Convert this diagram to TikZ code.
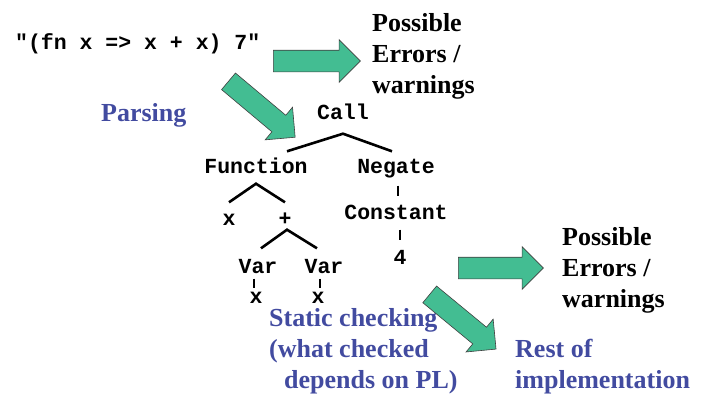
\documentclass[tikz,border=0pt]{standalone}
\usepackage{fontspec}
\setmainfont{Liberation Serif}
\setmonofont{Liberation Mono}
\usetikzlibrary{shapes.arrows}
\definecolor{arrowgreen}{RGB}{67,189,146}
\definecolor{stageblue}{RGB}{66,75,160}
\tikzset{
 code/.style={font=\ttfamily\bfseries\fontsize{21.5}{26}\selectfont, inner sep=0pt, text height=13pt, text depth=0pt},
 remark/.style={font=\bfseries\fontsize{26}{31}\selectfont, inner sep=0pt, align=left, anchor=base west},
 stage/.style={remark, text=stageblue},
 branch/.style={line width=2.6pt},
 tick/.style={line width=2.6pt},
 bigarrow/.style={single arrow, draw=black!75, fill=arrowgreen, line width=0.6pt, inner sep=10.5pt, single arrow head extend=10.5pt, minimum height=#1}
}
\begin{document}
\begin{tikzpicture}[x=1pt,y=-1pt]
\useasboundingbox (0,0) rectangle (707,394);
 \node[code, anchor=west] (source) at (15,43) {"(fn x => x + x) 7"};
 \node[remark] (errtop) at (372,93) {Possible\\Errors /\\warnings};
 \node[stage] (parsing) at (101,121) {Parsing};
 \node[remark] (errlow) at (562,307) {Possible\\Errors /\\warnings};
 \node[stage] (static) at (269,388) {Static checking\\(what checked\\\hspace*{15pt}depends on PL)};
 \node[stage] (rest) at (515,388) {Rest of\\implementation};

 \node[code] (call) at (343,113) {Call};
 \node[code] (function) at (256,167) {Function};
 \node[code] (negate) at (396,167) {Negate};
 \node[code] (xa) at (229,219) {x};
 \node[code] (plus) at (285,219) {+};
 \node[code] (constant) at (396,213) {Constant};
 \node[code] (four) at (400,258) {4};
 \node[code] (vara) at (258,267) {Var};
 \node[code] (varb) at (324,267) {Var};
 \node[code] (xb) at (256,297) {x};
 \node[code] (xc) at (318,297) {x};

\draw[branch] ([xshift=31pt,yshift=9pt]function.north) -- ([yshift=-14pt]call.south) -- ([xshift=-4pt,yshift=9pt]negate.north);
\draw[branch] ([yshift=10pt]xa.north) -- ([yshift=-10pt]function.south) -- ([yshift=10pt]plus.north);
\draw[branch] ([xshift=3pt,yshift=12pt]vara.north) -- ([xshift=2pt,yshift=-4pt]plus.south) -- ([xshift=-7pt,yshift=12pt]varb.north);
\draw[tick, shorten <=12pt, shorten >=10pt] ([xshift=2pt]negate.south) -- ([xshift=2pt]constant.north);
\draw[tick, shorten <=10pt, shorten >=11pt] ([xshift=4pt]constant.south) -- (four.north);
\draw[tick, shorten <=5pt, shorten >=2pt] ([xshift=-4pt]vara.south) -- ([xshift=-2pt]xb.north);
\draw[tick, shorten <=5pt, shorten >=2pt] ([xshift=-4pt]varb.south) -- ([xshift=2pt]xc.north);

 \node[bigarrow=87pt] (toerrors) at (311.5,61) {};
 \node[bigarrow=87pt, rotate=-40] (toparse) at (257.7,105.8) {};
 \node[bigarrow=85pt] (tolater) at (495.5,268) {};
 \node[bigarrow=86pt, rotate=-39.5] (torest) at (458.7,318.3) {};
\end{tikzpicture}
\end{document}
